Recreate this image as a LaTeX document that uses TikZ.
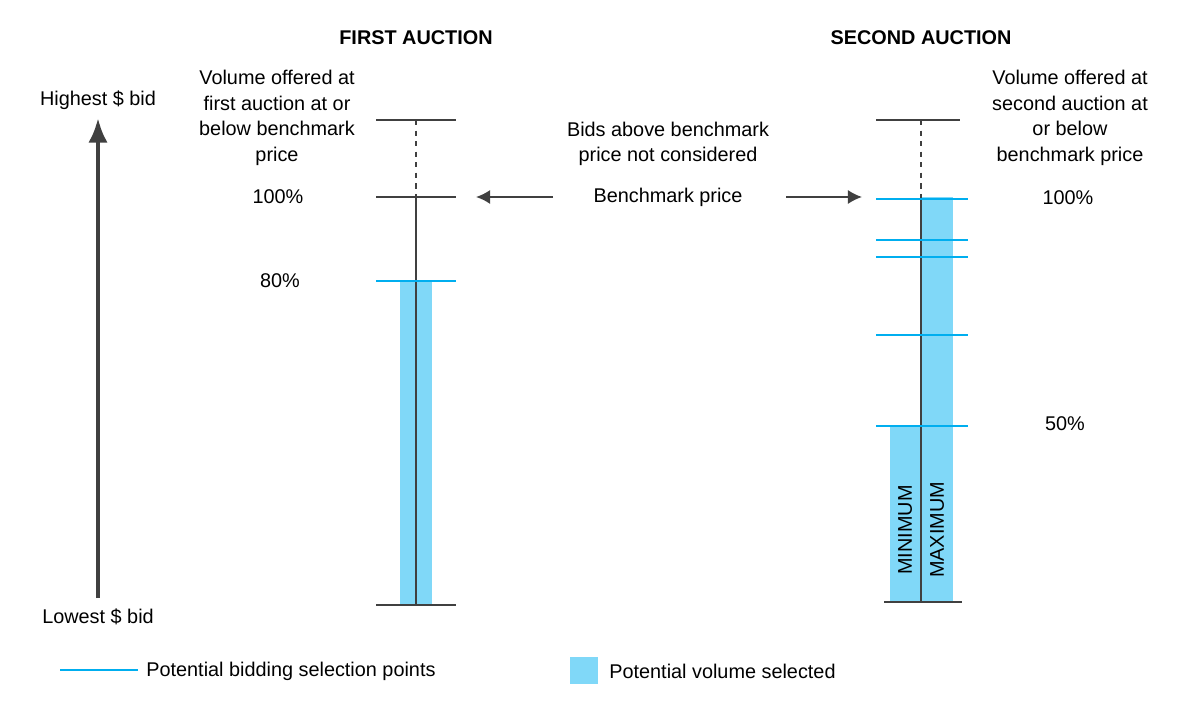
\documentclass[tikz,border=0pt]{standalone}
\usepackage{fontspec}
\usetikzlibrary{arrows.meta}
\setmainfont{Liberation Sans}
\definecolor{dk}{HTML}{404040}
\definecolor{bl}{HTML}{00AEEF}
\definecolor{fl}{HTML}{80D8F8}
\begin{document}
\begin{tikzpicture}[x=0.02cm,y=-0.02cm,
  txt/.style={font=\fontsize{11.3}{14.6}\selectfont,align=center,inner sep=0pt},
  ttl/.style={font=\fontsize{11.3}{14}\selectfont\bfseries,inner sep=0pt},
  dkl/.style={draw=dk,line width=1.6pt},
  bll/.style={draw=bl,line width=1.4pt},
  arr/.style={draw=dk,line width=1pt,-{Latex[length=8pt,width=8pt]}}]
\useasboundingbox (0,0) rectangle (1195,715);
% left axis
\coordinate (lb) at (98,598); \coordinate (lt) at (98,118);
\draw[draw=dk,line width=2.5pt,-{Latex[length=14pt,width=11pt]}] (lb) -- (lt);
\node[txt] (hi) at (98,100) {Highest \$ bid};
\node[txt] (lo) at (98,617) {Lowest \$ bid};
% titles
\node[ttl] (t1) at (416,38) {FIRST AUCTION};
\node[ttl] (t2) at (921,38) {SECOND AUCTION};
% first column
\fill[fl] (400,281) rectangle (432,605);
\draw[dkl,dashed] (416,120) -- (416,197);
\draw[dkl] (416,197) -- (416,605);
\draw[dkl] (376,120) -- (456,120);
\draw[dkl] (376,197) -- (456,197);
\draw[dkl] (376,605) -- (456,605);
\draw[bll] (376,281) -- (456,281);
\node[txt] (v1) at (277,118) {Volume offered at\\first auction at or\\below benchmark\\price};
\node[txt] (p100a) at (278,197) {100\%};
\node[txt] (p80) at (280,281) {80\%};
% middle
\node[txt] (bids) at (668,144) {Bids above benchmark\\price not considered};
\node[txt] (bench) at (668,197) {Benchmark price};
\coordinate (a1) at (476,197); \coordinate (a2) at (862,197);
\draw[arr] (553,197) -- (a1);
\draw[arr] (786,197) -- (a2);
% second column
\fill[fl] (921,197) rectangle (953,602);
\fill[fl] (890,425) rectangle (921,602);
\draw[dkl,dashed] (921,120) -- (921,197);
\draw[dkl] (921,197) -- (921,602);
\draw[dkl] (876,120) -- (960,120);
\draw[dkl] (884,602) -- (962,602);
\foreach \y in {199,240,257,335,426} \draw[bll] (876,\y) -- (968,\y);
\node[txt,rotate=90] (mn) at (905,530) {MINIMUM};
\node[txt,rotate=90] (mx) at (937,530) {MAXIMUM};
\node[txt] (v2) at (1070,118) {Volume offered at\\second auction at\\or below\\benchmark price};
\node[txt] (p100b) at (1068,198) {100\%};
\node[txt] (p50) at (1065,424) {50\%};
% legend
\draw[bll] (60,670) -- (138,670);
\node[txt,anchor=west] (l1) at (146,671) {Potential bidding selection points};
\fill[fl] (570,657) rectangle (598,684);
\node[txt,anchor=west] (l2) at (609,671) {Potential volume selected};
\end{tikzpicture}
\end{document}
